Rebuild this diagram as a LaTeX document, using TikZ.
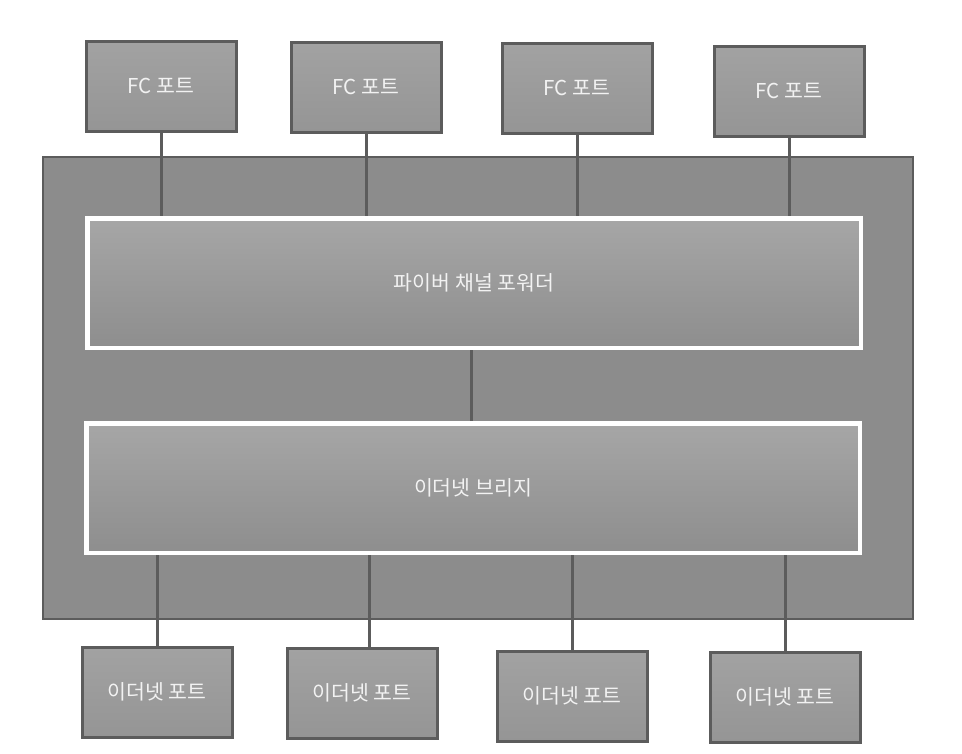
\documentclass[tikz,border=0pt]{standalone}
\usepackage{fontspec}
\setmainfont{Noto Sans CJK KR}
\definecolor{edgegray}{HTML}{5C5C5C}
\definecolor{switchfill}{HTML}{8C8C8C}
\definecolor{porttop}{HTML}{A2A2A2}
\definecolor{portbottom}{HTML}{959595}
\definecolor{innertop}{HTML}{A6A6A6}
\definecolor{innerbottom}{HTML}{8E8E8E}
\definecolor{labelwhite}{HTML}{F2F2F2}
\begin{document}
\begin{tikzpicture}[x=1pt,y=-1pt,
    portbox/.style={draw=edgegray, line width=3pt, top color=porttop, bottom color=portbottom,
      minimum width=150pt, minimum height=90pt, inner sep=0pt,
      text=labelwhite, font=\fontsize{20.5}{24}\selectfont},
    switchbox/.style={draw=edgegray, line width=2.5pt, fill=switchfill,
      minimum width=870pt, minimum height=462pt, inner sep=0pt},
    innerbox/.style={draw=white, line width=3pt, top color=innertop, bottom color=innerbottom,
      minimum width=772pt, minimum height=128pt, inner sep=0pt,
      text=labelwhite, font=\fontsize{20.5}{24}\selectfont},
    link/.style={draw=edgegray, line width=3pt}]
  \useasboundingbox (0,0) rectangle (962,753);
  % the switch housing
  \node[switchbox] (switch) at (478,388) {};
  % ports on top and below
  \node[portbox] (fcportone)   at (161,86) {FC 포트};
  \node[portbox] (fcporttwo)   at (366,87) {FC 포트};
  \node[portbox] (fcportthree) at (577,88) {FC 포트};
  \node[portbox] (fcportfour)  at (789,91) {FC 포트};
  \node[portbox] (ethportone)   at (157,692) {이더넷 포트};
  \node[portbox] (ethporttwo)   at (362,693) {이더넷 포트};
  \node[portbox] (ethportthree) at (572,696) {이더넷 포트};
  \node[portbox] (ethportfour)  at (785,697) {이더넷 포트};
  % the two blocks inside
  \node[innerbox] (forwarder) at (474,283) {파이버 채널 포워더};
  \node[innerbox] (bridge)    at (473,488) {이더넷 브리지};
  % links
  \draw[link] (fcportone.south)   -- (fcportone.south |- forwarder.north);
  \draw[link] (fcporttwo.south)   -- (fcporttwo.south |- forwarder.north);
  \draw[link] (fcportthree.south) -- (fcportthree.south |- forwarder.north);
  \draw[link] (fcportfour.south)  -- (fcportfour.south |- forwarder.north);
  \draw[link] ([xshift=-3pt]forwarder.south) -- ([xshift=-3pt]forwarder.south |- bridge.north);
  \draw[link] (ethportone.north)   -- (ethportone.north |- bridge.south);
  \draw[link] ([xshift=7pt]ethporttwo.north) -- ([xshift=7pt]ethporttwo.north |- bridge.south);
  \draw[link] (ethportthree.north) -- (ethportthree.north |- bridge.south);
  \draw[link] (ethportfour.north)  -- (ethportfour.north |- bridge.south);
  % redraw borders over the link ends
  \draw[draw=white, line width=3pt] (forwarder.south west) rectangle (forwarder.north east);
  \draw[draw=white, line width=3pt] (bridge.south west) rectangle (bridge.north east);
\end{tikzpicture}
\end{document}
